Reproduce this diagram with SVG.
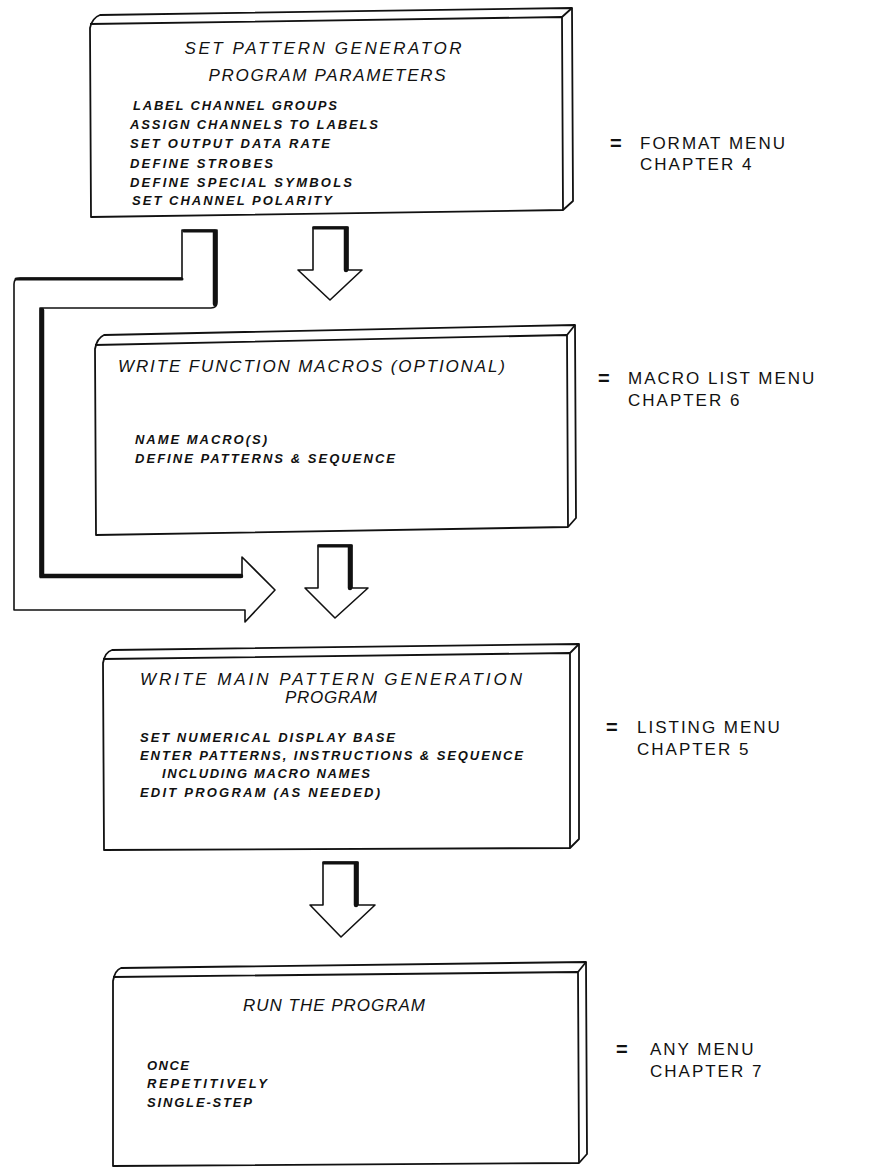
<svg xmlns="http://www.w3.org/2000/svg" width="871" height="1169" viewBox="0 0 871 1169">
<style>
.ol{fill:none;stroke:#111;stroke-width:1.8;stroke-linejoin:round}
.wf{fill:#fff;stroke:#111;stroke-width:1.6;stroke-linejoin:round}
.th{fill:none;stroke:#111;stroke-width:4.5;stroke-linecap:round}
.tm{fill:none;stroke:#111;stroke-width:3;stroke-linecap:round}
.ti{font-family:"Liberation Sans",Arial,sans-serif;font-style:italic;font-size:17px;fill:#111}
.li{font-family:"Liberation Sans",Arial,sans-serif;font-style:italic;font-weight:bold;font-size:13px;fill:#111}
.rl{font-family:"Liberation Sans",Arial,sans-serif;font-size:17px;letter-spacing:2px;fill:#111}
.eq{font-family:"Liberation Sans",Arial,sans-serif;font-weight:bold;font-size:20px;fill:#111}
</style>
<rect width="871" height="1169" fill="#fff"/>

<g id="connectors">
  <g id="arrow-bypass">
    <path class="wf" d="M182,230 L217,230 L217,302 Q217,308 211,308 L40,308 L40,577 L242,577 L242,557 L275,590 L245,622 L245,610 L14,610 L14,284 Q14,278 20,278 L182,278 Z"/>
    <path class="tm" d="M184,231 L215,231"/>
    <path class="th" d="M215,232 L215,304"/>
    <path class="tm" d="M16,279 L182,279"/>
    <path class="th" d="M42,310 L42,576 L241,576"/>
  </g>
  <g id="arrow-1">
    <path class="wf" d="M313,227 L348,227 L348,270 L362,270 L330,300 L298,270 L313,270 Z"/>
    <path class="tm" d="M314,228 L347,228"/>
    <path class="th" d="M346,229 L346,270"/>
  </g>
  <g id="arrow-2">
    <path class="wf" d="M318,545 L352,545 L352,588 L368,588 L335,618 L305,588 L318,588 Z"/>
    <path class="tm" d="M319,546 L351,546"/>
    <path class="th" d="M350,547 L350,588"/>
  </g>
  <g id="arrow-3">
    <path class="wf" d="M323,862 L358,862 L358,905 L375,905 L341,937 L310,905 L323,905 Z"/>
    <path class="tm" d="M324,863 L357,863"/>
    <path class="th" d="M356,864 L356,905"/>
  </g>
</g>

<g id="node-format">
  <path class="ol" d="M91,217 L90,28 Q92,18 100,15 L572,8 L573,201 L563,210 Z"/>
  <path class="ol" d="M90,24 L562,17 L563,210"/>
  <path class="ol" d="M562,17 L572,8"/>
  <text class="ti" x="323" y="54" text-anchor="middle" font-size="18" textLength="277" lengthAdjust="spacing">SET PATTERN GENERATOR</text>
  <text class="ti" x="327" y="81" text-anchor="middle" font-size="18" textLength="237" lengthAdjust="spacing">PROGRAM PARAMETERS</text>
  <text class="li" x="133" y="110" textLength="204" lengthAdjust="spacing">LABEL CHANNEL GROUPS</text>
  <text class="li" x="130" y="129" textLength="248" lengthAdjust="spacing">ASSIGN CHANNELS TO LABELS</text>
  <text class="li" x="130" y="148" textLength="200" lengthAdjust="spacing">SET OUTPUT DATA RATE</text>
  <text class="li" x="130" y="168" textLength="143" lengthAdjust="spacing">DEFINE STROBES</text>
  <text class="li" x="130" y="187" textLength="222" lengthAdjust="spacing">DEFINE SPECIAL SYMBOLS</text>
  <text class="li" x="132" y="205" textLength="200" lengthAdjust="spacing">SET CHANNEL POLARITY</text>
  <text class="eq" x="610" y="150">=</text>
  <text class="rl" x="640" y="149">FORMAT MENU</text>
  <text class="rl" x="640" y="170">CHAPTER 4</text>
</g>

<g id="node-macro">
  <path class="ol" d="M96,535 L95,349 Q97,338 104,335 L575,325 L576,518 L568,527 Z"/>
  <path class="ol" d="M95,345 L567,335 L568,527"/>
  <path class="ol" d="M567,335 L575,325"/>
  <text class="ti" x="118" y="372" textLength="387" lengthAdjust="spacing">WRITE FUNCTION MACROS (OPTIONAL)</text>
  <text class="li" x="135" y="444" font-size="12.5" textLength="132" lengthAdjust="spacing">NAME MACRO(S)</text>
  <text class="li" x="135" y="463" font-size="12.5" textLength="260" lengthAdjust="spacing">DEFINE PATTERNS &amp; SEQUENCE</text>
  <text class="eq" x="598" y="385">=</text>
  <text class="rl" x="628" y="384">MACRO LIST MENU</text>
  <text class="rl" x="628" y="406">CHAPTER 6</text>
</g>

<g id="node-listing">
  <path class="ol" d="M104,850 L103,663 Q105,652 112,650 L579,644 L579,839 L570,848 Z"/>
  <path class="ol" d="M103,659 L570,653 L570,848"/>
  <path class="ol" d="M570,653 L579,644"/>
  <text class="ti" x="140" y="685" textLength="382" lengthAdjust="spacing">WRITE MAIN PATTERN GENERATION</text>
  <text class="ti" x="285" y="703" textLength="92" lengthAdjust="spacing">PROGRAM</text>
  <text class="li" x="140" y="742" font-size="12.5" textLength="255" lengthAdjust="spacing">SET NUMERICAL DISPLAY BASE</text>
  <text class="li" x="140" y="760" font-size="12.5" textLength="383" lengthAdjust="spacing">ENTER PATTERNS, INSTRUCTIONS &amp; SEQUENCE</text>
  <text class="li" x="162" y="778" font-size="12.5" textLength="208" lengthAdjust="spacing">INCLUDING MACRO NAMES</text>
  <text class="li" x="140" y="797" font-size="12.5" textLength="240" lengthAdjust="spacing">EDIT PROGRAM (AS NEEDED)</text>
  <text class="eq" x="606" y="734">=</text>
  <text class="rl" x="637" y="733">LISTING MENU</text>
  <text class="rl" x="637" y="755">CHAPTER 5</text>
</g>

<g id="node-run">
  <path class="ol" d="M113,1166 L113,981 Q115,970 121,968 L586,962 L587,1154 L579,1163 Z"/>
  <path class="ol" d="M113,977 L578,972 L579,1163"/>
  <path class="ol" d="M578,972 L586,962"/>
  <text class="ti" x="243" y="1011" textLength="182" lengthAdjust="spacing">RUN THE PROGRAM</text>
  <text class="li" x="147" y="1070" font-size="12.5" textLength="42" lengthAdjust="spacing">ONCE</text>
  <text class="li" x="147" y="1088" font-size="12.5" textLength="120" lengthAdjust="spacing">REPETITIVELY</text>
  <text class="li" x="147" y="1107" font-size="12.5" textLength="105" lengthAdjust="spacing">SINGLE-STEP</text>
  <text class="eq" x="616" y="1056">=</text>
  <text class="rl" x="650" y="1055">ANY MENU</text>
  <text class="rl" x="650" y="1077">CHAPTER 7</text>
</g>
</svg>
